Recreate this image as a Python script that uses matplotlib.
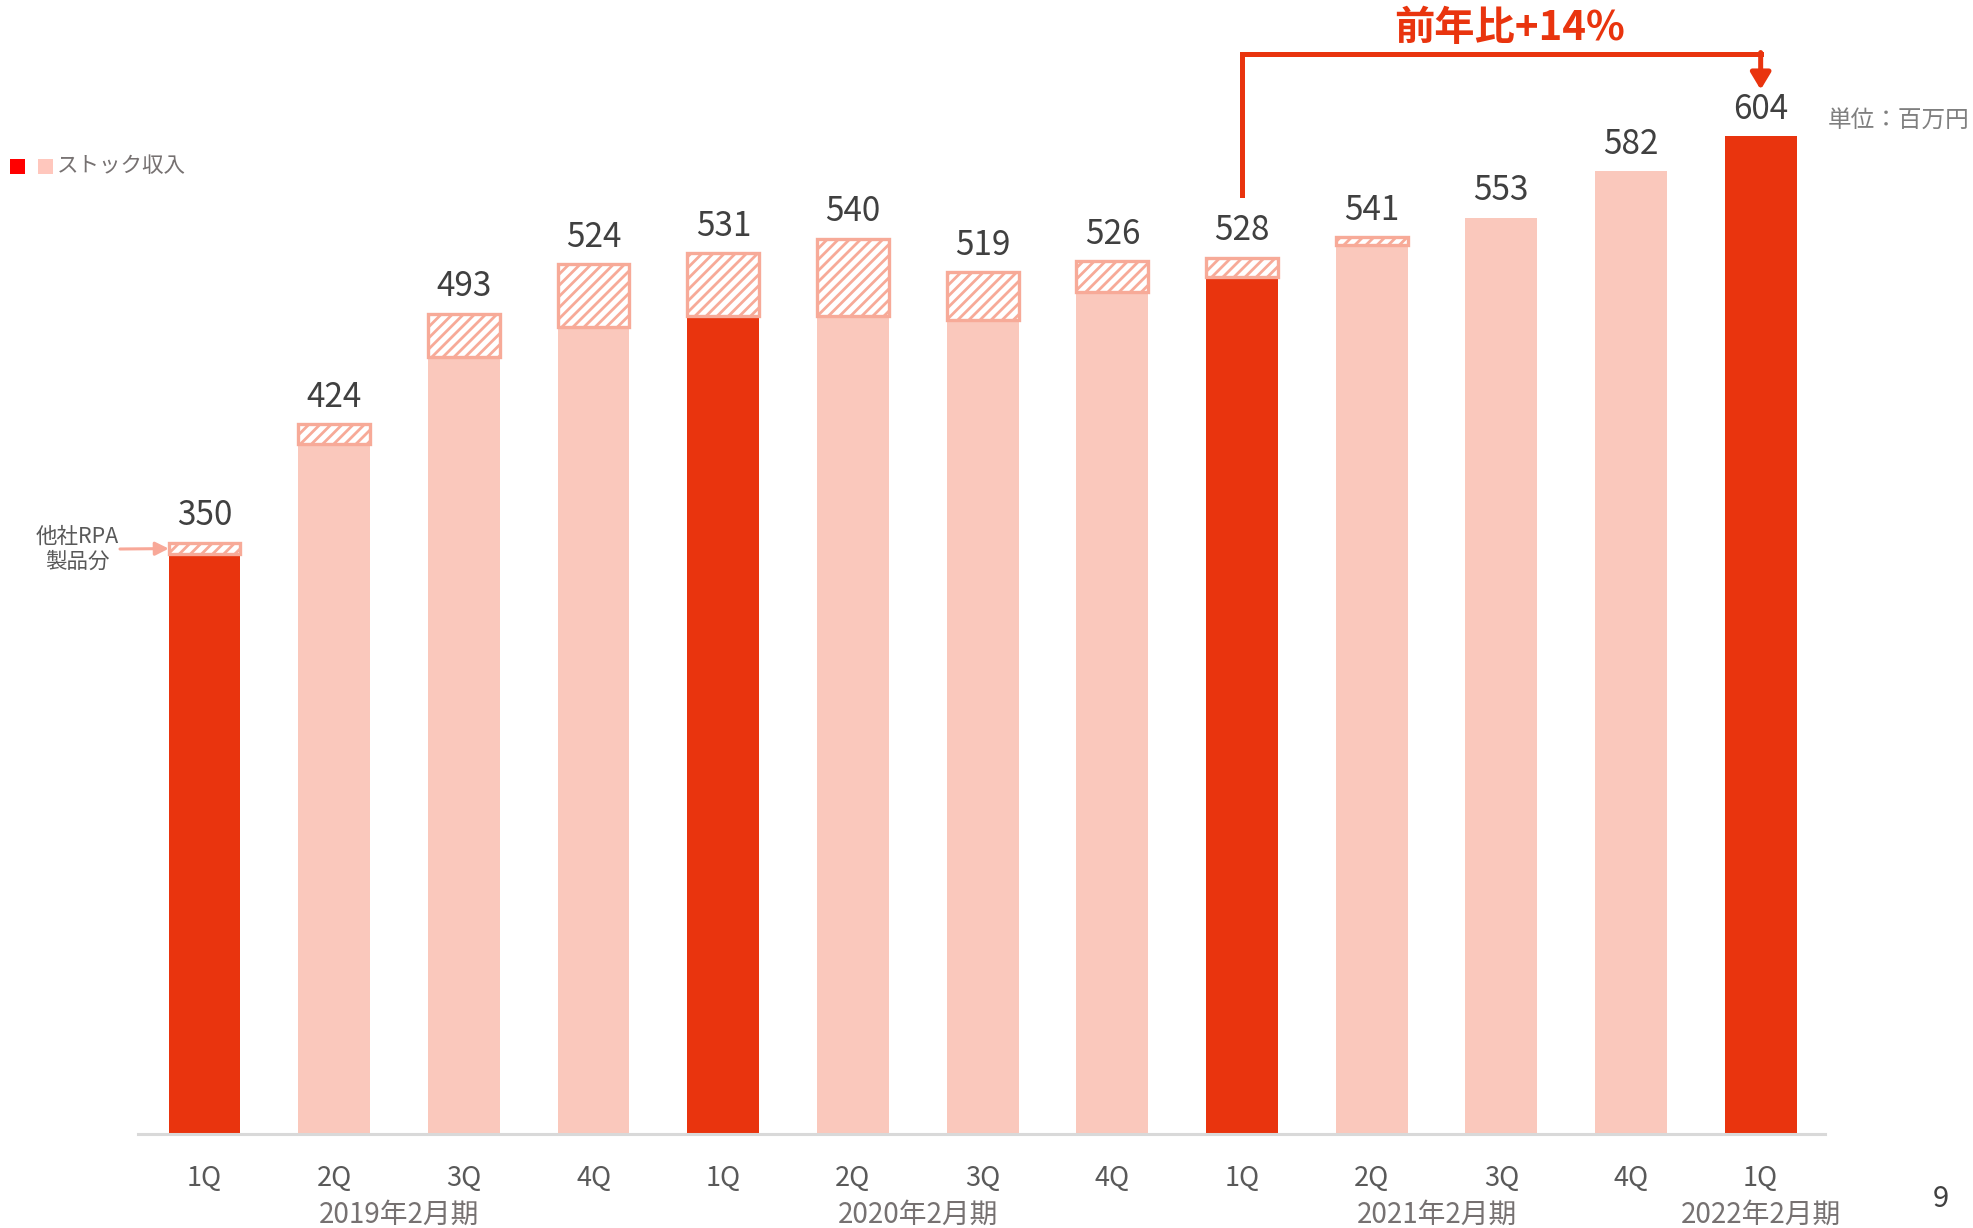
import numpy as np
import matplotlib
matplotlib.use('Agg')
import matplotlib.pyplot as plt
from matplotlib.patches import Rectangle

plt.rcParams['font.family'] = ['Noto Sans CJK JP', 'DejaVu Sans']
plt.rcParams['hatch.linewidth'] = 2.0

# data (百万円)
quarters = ['1Q', '2Q', '3Q', '4Q', '1Q', '2Q', '3Q', '4Q', '1Q', '2Q', '3Q', '4Q', '1Q']
totals = [350, 424, 493, 524, 531, 540, 519, 526, 528, 541, 553, 582, 604]
# 他社RPA製品分 (hatched top part)
other_rpa = [7, 12, 27, 39, 39, 48, 30, 19, 12, 5, 0, 0, 0]
highlight = [True, False, False, False, True, False, False, False, True, False, False, False, True]
fiscal_years = ['2019年2月期', '2020年2月期', '2021年2月期', '2022年2月期']
fiscal_pos = [1.5, 5.5, 9.5, 12]
yoy_text = '前年比+14%'
yoy_from, yoy_to = 8, 12

RED = '#E9340E'
PINK = '#FAC8BC'
HATCH = '#F7AA98'
AXIS_MIN = -19

W, H = 1974, 1228
fig = plt.figure(figsize=(W / 100, H / 100), dpi=100)
ax = fig.add_axes([138.5 / W, 94 / H, 1687 / W, 1134 / H])

x = np.arange(len(totals))
totals = np.array(totals)
other_rpa = np.array(other_rpa)
base = totals - other_rpa
colors = [RED if h else PINK for h in highlight]

ax.bar(x, base - AXIS_MIN, bottom=AXIS_MIN, width=0.553, color=colors, linewidth=0)
for i in range(len(x)):
    if other_rpa[i] > 0:
        ax.bar(x[i], other_rpa[i], bottom=base[i], width=0.553, facecolor='white',
               edgecolor=HATCH, hatch='///', linewidth=2.4)

for i in range(len(x)):
    ax.annotate(str(totals[i]), (x[i], totals[i]), xytext=(0, 12.6), textcoords='offset points',
                ha='center', va='baseline', fontsize=24, color='#404040')

ax.set_xlim(-0.51, 12.5)
ax.set_ylim(AXIS_MIN, 689)
for s in ['top', 'left', 'right']:
    ax.spines[s].set_visible(False)
ax.spines['bottom'].set_color('#D9D9D9')
ax.spines['bottom'].set_linewidth(2.2)
ax.set_yticks([])
ax.set_xticks([])

for i, q in enumerate(quarters):
    ax.annotate(q, (x[i], 0), xycoords=('data', 'axes fraction'), xytext=(0, -37.4),
                textcoords='offset points', ha='center', va='baseline', fontsize=19.5, color='#595959')
for fy, p in zip(fiscal_years, fiscal_pos):
    ax.annotate(fy, (p, 0), xycoords=('data', 'axes fraction'), xytext=(0, -64),
                textcoords='offset points', ha='center', va='baseline', fontsize=20, color='#767171')

# year-on-year bracket arrow
top_y = 655
ax.plot([yoy_from, yoy_from, yoy_to], [567, top_y, top_y], color=RED, lw=3.6,
        solid_joinstyle='miter', clip_on=False)
ax.annotate('', xy=(yoy_to, 633), xytext=(yoy_to, top_y + 1.2),
            arrowprops=dict(arrowstyle='-|>,head_length=1.0,head_width=0.6', color=RED, lw=3.6,
                            shrinkA=0, shrinkB=0), annotation_clip=False)
ax.text(10.06, 671, yoy_text, ha='center', va='center', fontsize=29, fontweight='bold',
        color=RED, clip_on=False)

# 他社RPA製品分 pointer
fig.text(77 / W, 1 - 549 / H, '他社RPA\n製品分', ha='center', va='center',
         fontsize=15.5, color='#595959', linespacing=1.2)
ax.annotate('', xy=(x[0] - 0.553 / 2, totals[0] - other_rpa[0] / 2),
            xytext=(120, H - 549), textcoords='figure pixels',
            arrowprops=dict(arrowstyle='-|>,head_length=0.8,head_width=0.4', color='#F8A898',
                            lw=2.2, shrinkA=0, shrinkB=0))

# legend
fig.patches.append(Rectangle((10 / W, 1 - 174 / H), 15 / W, 15 / H, transform=fig.transFigure,
                             facecolor='#FF0000', edgecolor='none'))
fig.patches.append(Rectangle((38 / W, 1 - 174 / H), 15 / W, 15 / H, transform=fig.transFigure,
                             facecolor='#FFC7BD', edgecolor='none'))
fig.text(57 / W, 1 - 166 / H, 'ストック収入', ha='left', va='center', fontsize=15.5, color='#767171')

fig.text(1828 / W, 1 - 120 / H, '単位：百万円', ha='left', va='center', fontsize=17, color='#7F7F7F')
fig.text(1941 / W, 1 - 1199 / H, '9', ha='center', va='center', fontsize=21, color='#404040')

fig.savefig('out.png', dpi=100, facecolor='white')
